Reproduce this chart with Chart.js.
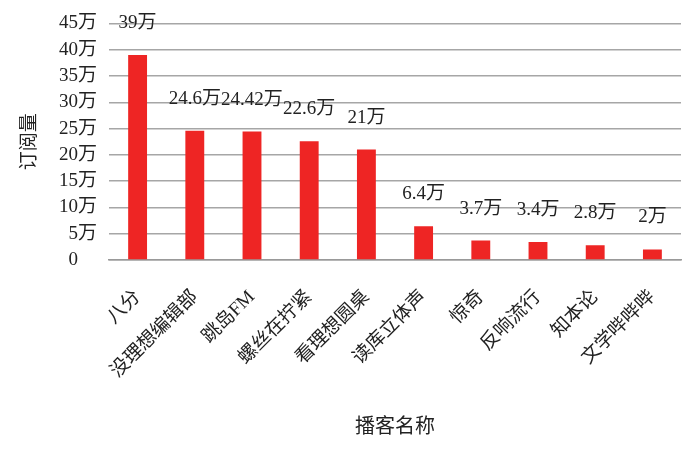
<!DOCTYPE html>
<html><head><meta charset="utf-8">
<script src="https://cdn.jsdelivr.net/npm/chart.js@4/dist/chart.umd.min.js"></script>
<style>html,body{margin:0;padding:0;background:#fff}#wrap{width:700px;height:449px}</style>
</head><body><div id="wrap"><canvas id="c" width="700" height="449"></canvas></div>
<script>
const categories = ['八分','没理想编辑部','跳岛FM','螺丝在拧紧','看理想圆桌','读库立体声','惊奇','反响流行','知本论','文学哔哔哔'];
const subscribers = [39, 24.6, 24.42, 22.6, 21, 6.4, 3.7, 3.4, 2.8, 2];
const valueLabels = ['39万','24.6万','24.42万','22.6万','21万','6.4万','3.7万','3.4万','2.8万','2万'];
const yTicks = [0,5,10,15,20,25,30,35,40,45];

const FONT = '"Liberation Serif","Noto Sans CJK SC",serif';
const labelPlugin = {
  id:'vlabels',
  afterDatasetsDraw(chart){
    const ctx = chart.ctx, meta = chart.getDatasetMeta(0);
    ctx.save();
    ctx.font = '19px ' + FONT;
    ctx.fillStyle = '#222';
    ctx.textAlign = 'center';
    ctx.textBaseline = 'middle';
    meta.data.forEach((bar,i)=>{
      ctx.fillText(valueLabels[i], bar.x, bar.y - 32);
    });
    ctx.restore();
  }
};
new Chart(document.getElementById('c'),{
  type:'bar',
  data:{labels:categories,datasets:[{data:subscribers,backgroundColor:'#EE2524',barPercentage:0.33,categoryPercentage:1}]},
  options:{
    responsive:false,animation:false,
    layout:{padding:{top:22,right:19,left:0,bottom:0}},
    plugins:{legend:{display:false},tooltip:{enabled:false}},
    scales:{
      x:{
        grid:{display:false,drawTicks:false},
        border:{display:true,color:'#999',width:1.5},
        ticks:{color:'#222',font:{family:FONT,size:19},minRotation:45,maxRotation:45,padding:26,autoSkip:false},
        title:{display:true,text:'播客名称',color:'#222',font:{family:FONT,size:20},padding:{top:4,bottom:9}},
        afterFit(s){s.height=189;}
      },
      y:{
        min:0,max:45,
        afterBuildTicks(s){s.ticks=yTicks.map(v=>({value:v}));},
        grid:{color:'#a6a6a6',lineWidth:1.5,drawTicks:false},
        border:{display:false},
        ticks:{color:'#222',font:{family:FONT,size:19},padding:12,callback:v=>v===0?'0\u3000':v+'万'},
        title:{display:true,text:'订阅量',color:'#222',font:{family:FONT,size:19},padding:{top:19,bottom:0}},
        afterFit(s){s.width=109;}
      }
    }
  },
  plugins:[labelPlugin]
});
</script></body></html>
